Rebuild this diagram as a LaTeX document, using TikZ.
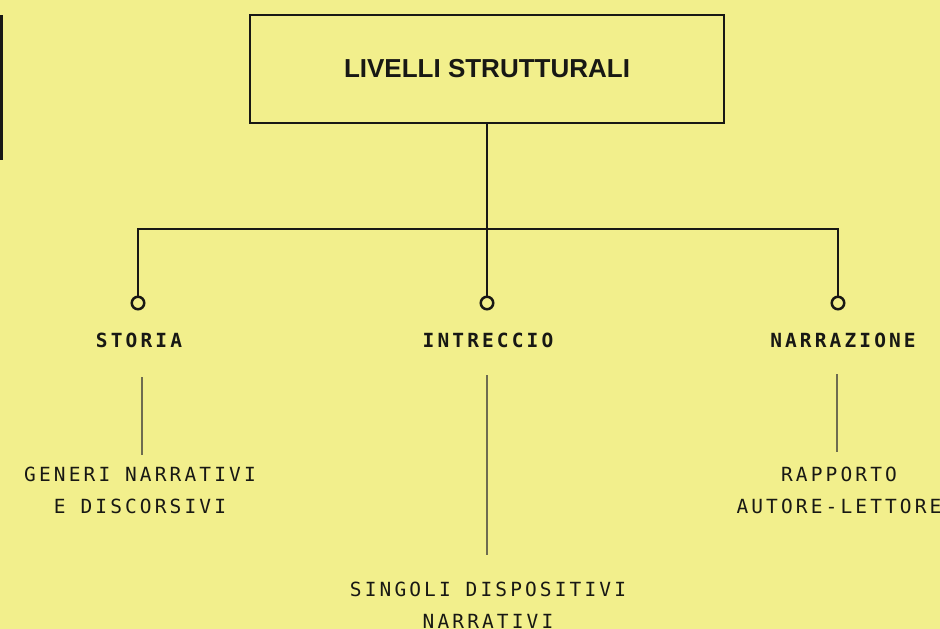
\documentclass[tikz,border=0pt]{standalone}
\usepackage{fontspec}
\setmainfont{Liberation Sans}
\newfontfamily\monofam[LetterSpace=16]{DejaVu Sans Mono}
\definecolor{paper}{RGB}{242,239,140}
\definecolor{ink}{RGB}{24,24,20}
\definecolor{stemgray}{RGB}{110,108,80}
\tikzset{
  framebox/.style={draw=ink, line width=2.8pt, fill=paper, inner sep=0pt},
  wire/.style={draw=ink, line width=2.5pt},
  dot/.style={circle, draw=ink, line width=2.5pt, fill=paper, minimum size=12.5pt, inner sep=0pt},
  head/.style={text=ink, inner sep=0pt, anchor=base,
    font={\monofam\bfseries\fontsize{19.5}{32}\selectfont}},
  sub/.style={text=ink, inner sep=0pt, anchor=base, align=center,
    font={\monofam\fontsize{19.5}{32}\selectfont}},
  stem/.style={draw=stemgray, line width=1.4pt}
}
\begin{document}
\begin{tikzpicture}[x=1pt,y=-1pt]
\fill[paper] (0,0) rectangle (940,629);
\clip (0,0) rectangle (940,629);

% boxes
\node[framebox, minimum width=80pt, minimum height=142pt, anchor=north east] (side) at (3,15) {};
\node[framebox, minimum width=474pt, minimum height=108pt,
      font={\bfseries\fontsize{26}{30}\selectfont}, text=ink] (root) at (487,69) {LIVELLI STRUTTURALI};

% branch ends
\node[dot] (c1) at (138,303) {};
\node[dot] (c2) at (487,303) {};
\node[dot] (c3) at (838,303) {};
\coordinate (bus) at (487,229);

\draw[wire] (root.south) -- (c2.north);
\draw[wire] (c1.north) |- (bus) -| (c3.north);

% level names
\node[head] (h1) at (139,347) {STORIA};
\node[head] (h2) at (488,347) {INTRECCIO};
\node[head] (h3) at (843,347) {NARRAZIONE};

% stems
\coordinate (s1a) at (142,377); \coordinate (s1b) at (142,455);
\coordinate (s2a) at (487,375); \coordinate (s2b) at (487,555);
\coordinate (s3a) at (837,374); \coordinate (s3b) at (837,452);
\draw[stem] (s1a) -- (s1b);
\draw[stem] (s2a) -- (s2b);
\draw[stem] (s3a) -- (s3b);

% descriptions (anchored on the baseline of the last line)
\node[sub] (d1) at (140,513) {GENERI NARRATIVI\\E DISCORSIVI};
\node[sub] (d2) at (488,628) {SINGOLI DISPOSITIVI\\NARRATIVI};
\node[sub] (d3) at (839,513) {RAPPORTO\\AUTORE-LETTORE};
\end{tikzpicture}
\end{document}
